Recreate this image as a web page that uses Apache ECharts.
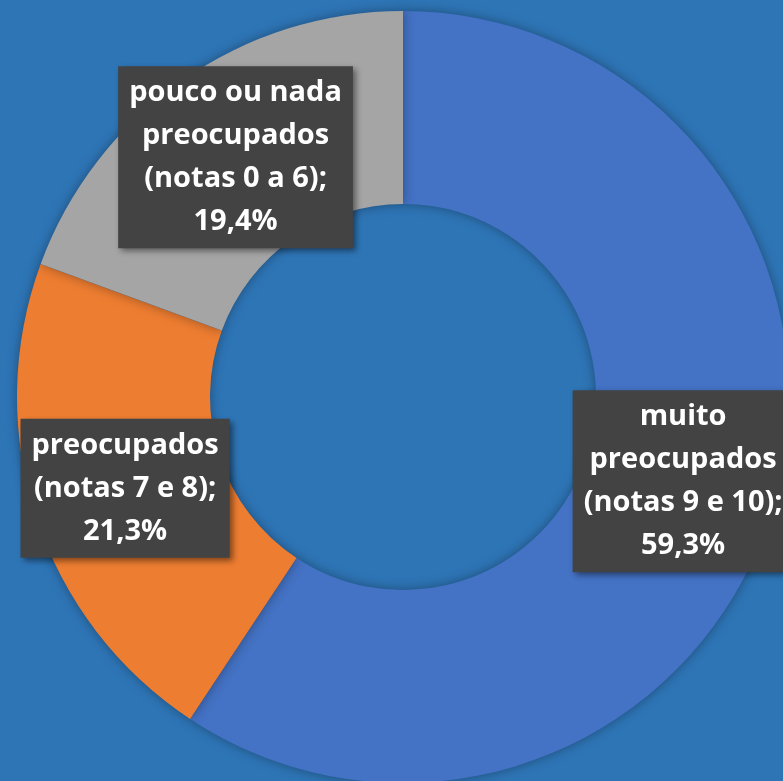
<!DOCTYPE html>
<html>
<head>
<meta charset="utf-8">
<script src="https://cdn.jsdelivr.net/npm/echarts@6/dist/echarts.min.js"></script>
<style>
  html, body { margin: 0; padding: 0; background: #2E75B6; }
  #chart { width: 783px; height: 781px; }
</style>
</head>
<body>
<div id="chart"></div>
<script>
// categorias e valores (%)
var categorias = [
    'muito\npreocupados\n(notas 9 e 10)',
    'preocupados\n(notas 7 e 8)',
    'pouco ou nada\npreocupados\n(notas 0 a 6)'
];
var valores = [59.3, 21.3, 19.4];
var cores = ['#4472C4', '#ED7D31', '#A5A5A5'];

function _getBaseSettings() {
    return {
        backgroundColor: '#2E75B6',
        animation: false,
        color: cores,
        series: [{
            type: 'pie',
            center: [403, 397],
            radius: [193, 386],
            startAngle: 90,
            clockwise: true,
            silent: true,
            itemStyle: {
                shadowBlur: 12,
                shadowColor: 'rgba(0,0,0,0.35)'
            },
            label: {
                show: true,
                position: 'inside',
                formatter: function (p) {
                    return p.name + ';\n' + p.value.toFixed(1).replace('.', ',') + '%';
                },
                color: '#ffffff',
                fontFamily: 'Open Sans, Noto Sans, sans-serif',
                fontWeight: 'bold',
                fontSize: 29,
                lineHeight: 43,
                align: 'center',
                backgroundColor: '#434343',
                padding: [5, 11, 5, 11],
                shadowBlur: 6,
                shadowOffsetX: 3,
                shadowOffsetY: 3,
                shadowColor: 'rgba(0,0,0,0.45)'
            },
            labelLine: { show: false },
            data: categorias.map(function (c, i) {
                return { name: c, value: valores[i] };
            })
        }]
    };
}

var myChart = echarts.init(document.getElementById('chart'));
myChart.setOption(_getBaseSettings());
</script>
</body>
</html>
